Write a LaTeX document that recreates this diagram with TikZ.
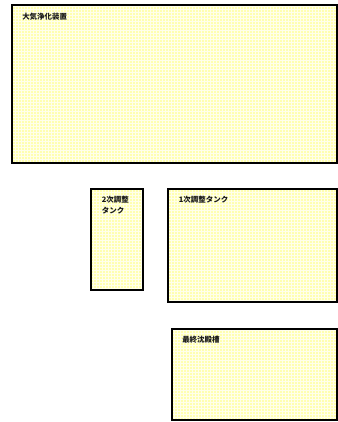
\documentclass[tikz,border=0pt]{standalone}
\usepackage{fontspec}
\newfontfamily\cjk{Noto Sans CJK JP}
\definecolor{boxfill}{HTML}{FFFFB0}
\definecolor{gridc}{HTML}{FFFFEA}
\begin{document}
\begin{tikzpicture}[x=0.75pt,y=-0.75pt,
  area/.style={draw=black,line width=1.1pt,fill=boxfill},
  lbl/.style={anchor=north west,inner sep=0pt,font=\cjk\bfseries\fontsize{5.6}{8.2}\selectfont,align=left,text=black!90}]
\useasboundingbox (0,0) rectangle (338,422);
\fill[white] (0,0) rectangle (338,422);
\newcommand{\gridbox}[5]{%
  \fill[black!15] (#1-1,#2-1) rectangle (#3,#4);
  \path[area] (#1,#2) rectangle (#3,#4);
  \begin{scope}
    \clip (#1+1,#2+1) rectangle (#3-1,#4-1);
    \draw[gridc,line width=0.4pt,step=2.25pt] (#1,#2) grid (#3,#4);
  \end{scope}
  \draw[black,line width=1.1pt] (#1,#2) rectangle (#3,#4);
  \coordinate (#5) at (#1,#2);
}
\gridbox{12}{5}{337}{163}{a}
\gridbox{91}{189}{143}{290}{b}
\gridbox{168}{189}{337}{302}{c}
\gridbox{172}{329}{337}{420}{d}
\node[lbl] (ta) at ([xshift=7.5pt,yshift=-5.5pt]a) {大気浄化装置};
\node[lbl] (tb) at ([xshift=8pt,yshift=-5pt]b) {2次調整\\タンク};
\node[lbl] (tc) at ([xshift=8pt,yshift=-5pt]c) {1次調整タンク};
\node[lbl] (td) at ([xshift=7.5pt,yshift=-5.5pt]d) {最終沈殿槽};
\end{tikzpicture}
\end{document}
